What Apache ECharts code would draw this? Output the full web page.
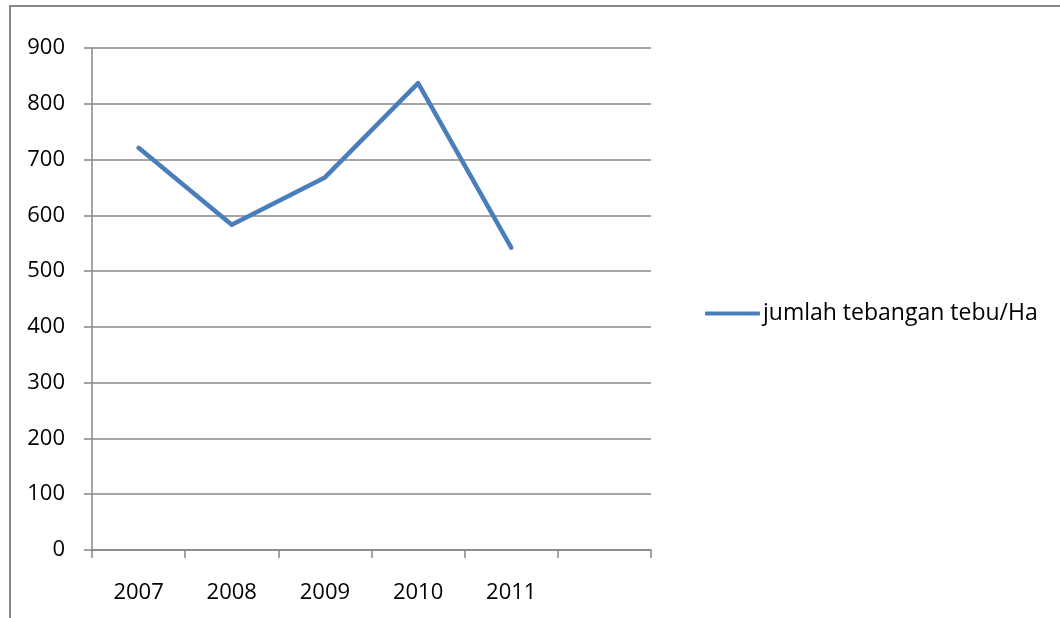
<!DOCTYPE html>
<html>
<head>
<meta charset="utf-8">
<script src="https://cdn.jsdelivr.net/npm/echarts@6/dist/echarts.min.js"></script>
<style>
html,body{margin:0;padding:0;background:#fff;}
#c{width:1060px;height:618px;}
</style>
</head>
<body>
<div id="c"></div>
<script>
var categories = ['2007', '2008', '2009', '2010', '2011', ''];
var seriesName = 'jumlah tebangan tebu/Ha';
var values = [721, 583, 668, 837, 542];
var yTicks = { min: 0, max: 900, interval: 100 };

var FONT = '"Open Sans", sans-serif';
var GRAY = '#878787';
var chart = echarts.init(document.getElementById('c'), null, { renderer: 'canvas' });
chart.setOption({
  animation: false,
  backgroundColor: '#fff',
  graphic: [{
    type: 'rect',
    shape: { x: 10, y: 6, width: 1200, height: 800 },
    style: { fill: 'none', stroke: GRAY, lineWidth: 2 },
    silent: true
  }],
  grid: { left: 92, top: 48, right: 409, bottom: 68, containLabel: false },
  legend: {
    show: true,
    left: 705,
    top: 302,
    padding: 0,
    orient: 'vertical',
    itemWidth: 55,
    itemHeight: 4,
    itemGap: 0,
    textStyle: { fontFamily: FONT, fontSize: 23, color: '#000', padding: [0, 0, 0, -2] },
    data: [{ name: seriesName, icon: 'roundRect' }]
  },
  xAxis: {
    type: 'category',
    data: categories,
    boundaryGap: true,
    axisLine: { show: true, lineStyle: { color: GRAY, width: 1.5 } },
    axisTick: { show: true, length: 8, lineStyle: { color: GRAY, width: 1.5 } },
    axisLabel: { fontFamily: FONT, fontSize: 22, color: '#000', margin: 32, interval: 0 },
    splitLine: { show: false }
  },
  yAxis: {
    type: 'value',
    min: yTicks.min,
    max: yTicks.max,
    interval: yTicks.interval,
    axisLine: { show: true, lineStyle: { color: GRAY, width: 1.5 } },
    axisTick: { show: true, length: 8, lineStyle: { color: GRAY, width: 1.5 } },
    axisLabel: { fontFamily: FONT, fontSize: 22, color: '#000', margin: 27 },
    splitLine: { show: true, lineStyle: { color: GRAY, width: 1.5 } }
  },
  series: [{
    name: seriesName,
    type: 'line',
    data: values,
    showSymbol: false,
    symbol: 'none',
    lineStyle: { color: '#4a7ebb', width: 4.5, cap: 'round', join: 'round' },
    itemStyle: { color: '#4a7ebb' }
  }]
});
</script>
</body>
</html>
